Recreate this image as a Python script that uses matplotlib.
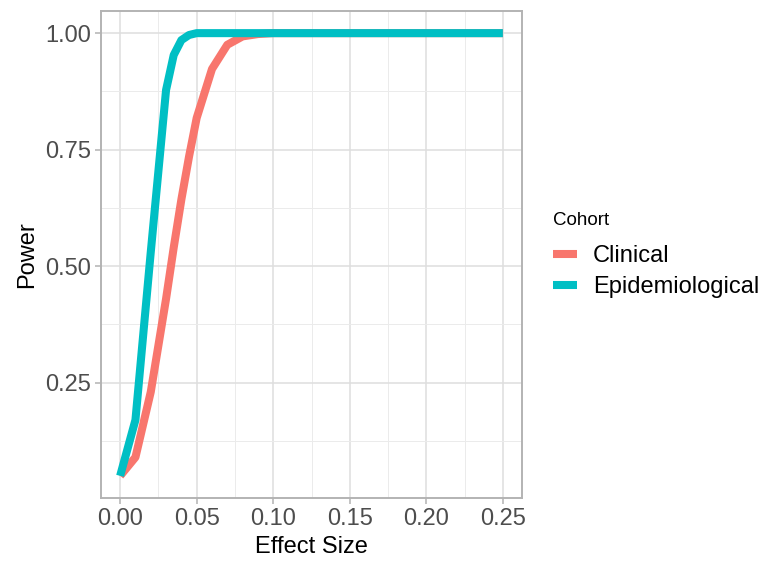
import matplotlib
matplotlib.use("Agg")
import matplotlib.pyplot as plt
from matplotlib.ticker import FixedLocator

plt.rcParams['font.family'] = ['Liberation Sans', 'DejaVu Sans']

effect_size = [0.0, 0.01, 0.02, 0.03, 0.035, 0.04, 0.045, 0.05, 0.06, 0.07, 0.08, 0.09,
               0.10, 0.11, 0.12, 0.13, 0.14, 0.15, 0.16, 0.17, 0.18, 0.19, 0.20,
               0.21, 0.22, 0.23, 0.24, 0.25]
clinical = [0.05, 0.09, 0.23, 0.43, 0.54, 0.643, 0.735, 0.818, 0.923, 0.975, 0.993, 0.998,
            1.0, 1.0, 1.0, 1.0, 1.0, 1.0, 1.0, 1.0, 1.0, 1.0, 1.0,
            1.0, 1.0, 1.0, 1.0, 1.0]
epidemiological = [0.05, 0.17, 0.53, 0.878, 0.953, 0.985, 0.996, 1.0, 1.0, 1.0, 1.0, 1.0,
                   1.0, 1.0, 1.0, 1.0, 1.0, 1.0, 1.0, 1.0, 1.0, 1.0, 1.0,
                   1.0, 1.0, 1.0, 1.0, 1.0]
series_names = ["Clinical", "Epidemiological"]
series_colors = ["#F8766D", "#00BFC4"]
x_ticks = [0.00, 0.05, 0.10, 0.15, 0.20, 0.25]
y_ticks = [0.25, 0.50, 0.75, 1.00]

W, H = 774, 566
fig = plt.figure(figsize=(W / 100, H / 100), dpi=100)
L, R, T, B = 101, 522, 11, 498
ax = fig.add_axes([L / W, (H - B) / H, (R - L) / W, (B - T) / H])

for name, vals, col in zip(series_names, [clinical, epidemiological], series_colors):
    ax.plot(effect_size, vals, color=col, lw=5.8, solid_capstyle='butt',
            solid_joinstyle='round', label=name, zorder=3)

ax.set_xlim(-0.0125, 0.2625)
ax.set_ylim(0.0025, 1.0475)
ax.xaxis.set_major_locator(FixedLocator(x_ticks))
ax.yaxis.set_major_locator(FixedLocator(y_ticks))
ax.xaxis.set_minor_locator(FixedLocator([0.025, 0.075, 0.125, 0.175, 0.225]))
ax.yaxis.set_minor_locator(FixedLocator([0.125, 0.375, 0.625, 0.875]))
ax.set_xticklabels([f"{v:.2f}" for v in x_ticks])
ax.set_yticklabels([f"{v:.2f}" for v in y_ticks])

ax.grid(which='major', color='#DEDEDE', lw=1.1, zorder=0)
ax.grid(which='minor', color='#EBEBEB', lw=0.7, zorder=0)
ax.set_axisbelow(True)
for s in ax.spines.values():
    s.set_color('#B3B3B3')
    s.set_linewidth(1.4)
ax.tick_params(which='major', length=4, width=1.1, color='#B3B3B3',
               labelcolor='#4D4D4D', labelsize=17, pad=3)
ax.tick_params(which='minor', length=0)

ax.set_xlabel("Effect Size", fontsize=17, color='black')
ax.set_ylabel("Power", fontsize=17, color='black')
ax.xaxis.set_label_coords(0.5, (B - 547) / (B - T))
ax.xaxis.label.set_va('center')
ax.yaxis.set_label_coords((27 - L) / (R - L), 0.5)
ax.yaxis.label.set_va('center')

leg = ax.legend(title="Cohort", loc='upper left',
                bbox_to_anchor=(553 / W, (H - 212) / H), bbox_transform=fig.transFigure,
                frameon=False, fontsize=17, title_fontsize=13.5, handlelength=1.0,
                handletextpad=0.68, labelspacing=0.38, borderpad=0, borderaxespad=0,
                alignment='left')
leg._legend_box.sep = 11.5
for line in leg.get_lines():
    line.set_linewidth(5.8)
    line.set_solid_capstyle('butt')

fig.savefig("out.png", dpi=100)
